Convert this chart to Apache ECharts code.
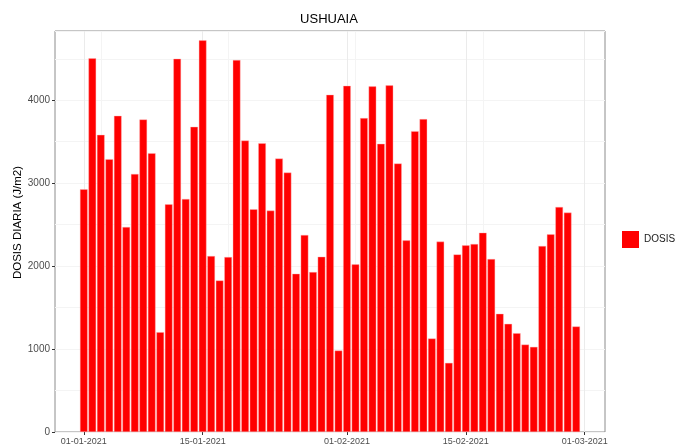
<!DOCTYPE html>
<html><head><meta charset="utf-8">
<script src="https://cdn.jsdelivr.net/npm/echarts@6/dist/echarts.min.js"></script>
<style>html,body{margin:0;padding:0;background:#fff}#c{width:675px;height:448px}</style>
</head><body><div id="c"></div>
<script>
const title = 'USHUAIA';
const seriesName = 'DOSIS';
const yTitle = 'DOSIS DIARIA (J/m2)';
const dates = [
 '2021-01-01','2021-01-02','2021-01-03','2021-01-04','2021-01-05','2021-01-06','2021-01-07','2021-01-08','2021-01-09','2021-01-10',
 '2021-01-11','2021-01-12','2021-01-13','2021-01-14','2021-01-15','2021-01-16','2021-01-17','2021-01-18','2021-01-19','2021-01-20',
 '2021-01-21','2021-01-22','2021-01-23','2021-01-24','2021-01-25','2021-01-26','2021-01-27','2021-01-28','2021-01-29','2021-01-30',
 '2021-01-31','2021-02-01','2021-02-02','2021-02-03','2021-02-04','2021-02-05','2021-02-06','2021-02-07','2021-02-08','2021-02-09',
 '2021-02-10','2021-02-11','2021-02-12','2021-02-13','2021-02-14','2021-02-15','2021-02-16','2021-02-17','2021-02-18','2021-02-19',
 '2021-02-20','2021-02-21','2021-02-22','2021-02-23','2021-02-24','2021-02-25','2021-02-26','2021-02-27','2021-02-28'];
const dosis = [
 2926,4505,3582,3289,3812,2471,3111,3768,3361,1203,
 2745,4500,2809,3679,4722,2121,1827,2109,4484,3514,
 2685,3482,2669,3297,3128,1908,2375,1928,2113,4066,
 982,4174,2021,3784,4167,3474,4179,3237,2310,3627,
 3772,1127,2295,833,2141,2250,2266,2403,2085,1425,
 1304,1191,1054,1026,2242,2383,2713,2645,1272];
const xTickDates = ['2021-01-01','2021-01-15','2021-02-01','2021-02-15','2021-03-01'];
const xMinorDates = ['2021-01-03','2021-01-18','2021-02-02','2021-02-17'];
const yTicks = [0,1000,2000,3000,4000];

const DAY = 86400000;
const t0 = Date.parse('2021-01-01');
const off = d => Math.round((Date.parse(d) - t0) / DAY);
const fmt = v => {
  const d = new Date(t0 + v * DAY);
  const p = n => String(n).padStart(2,'0');
  return p(d.getUTCDate()) + '-' + p(d.getUTCMonth()+1) + '-' + d.getUTCFullYear();
};
const xMajor = xTickDates.map(off);
const xMinor = xMinorDates.map(off);
const data = dates.map((d,i) => [off(d), dosis[i]]);
const xMin = -3.395, xMax = off(dates[dates.length-1]) + 3.395;
const yMax = 4835;
const font = 'Liberation Sans, Arial, sans-serif';

const chart = echarts.init(document.getElementById('c'), null, {renderer:'canvas'});
chart.setOption({
  animation: false,
  backgroundColor: '#fff',
  title: {text: title, left: 329, top: 13, textAlign: 'center', padding: 0,
    textStyle: {fontFamily: font, fontSize: 13, fontWeight: 'normal', color: '#000'}},
  legend: {data: [seriesName], left: 622, top: 231, orient: 'vertical', icon: 'rect', padding: 0,
    itemWidth: 17, itemHeight: 17, itemGap: 5,
    itemStyle: {borderWidth: 0},
    textStyle: {fontFamily: font, fontSize: 10, color: '#1a1a1a'}},
  grid: {left: 55, right: 70, top: 31, bottom: 16, show: true, borderColor: '#8c8c8c', borderWidth: 1,
    backgroundColor: 'transparent', containLabel: false, outerBoundsMode: 'none'},
  xAxis: {type: 'value', min: xMin, max: xMax,
    axisLine: {show: false, onZero: false},
    axisTick: {show: true, length: 3, lineStyle: {color: '#333'}, customValues: xMajor},
    axisLabel: {fontFamily: font, fontSize: 9, color: '#4d4d4d', margin: 5, customValues: xMajor, formatter: v => fmt(v)},
    splitLine: {show: false}},
  yAxis: [
    {type: 'value', min: 0, max: yMax, interval: 1000,
      name: yTitle, nameLocation: 'middle', nameGap: 31, nameRotate: 90, nameMoveOverlap: false,
      nameTextStyle: {fontFamily: font, fontSize: 11.5, color: '#000', padding: [0, 0, 0, 18]},
      axisLine: {show: false, onZero: false},
      axisTick: {show: true, length: 3, lineStyle: {color: '#333'}, customValues: yTicks},
      axisLabel: {fontFamily: font, fontSize: 10, color: '#4d4d4d', margin: 5, customValues: yTicks, formatter: v => String(v)},
      splitLine: {show: true, lineStyle: {color: '#ebebeb', width: 1}}},
    {type: 'value', min: 0, max: yMax, interval: 500, position: 'left',
      axisLine: {show: false, onZero: false}, axisTick: {show: false}, axisLabel: {show: false},
      splitLine: {show: true, lineStyle: {color: '#f4f4f4', width: 1}}}
  ],
  series: [
    {name: seriesName, type: 'bar', data: data, barWidth: 7.6, z: 3,
      itemStyle: {color: '#ff0000', borderColor: '#ffb3b3', borderWidth: 0.4},
      markLine: {silent: true, symbol: 'none', z: 1, label: {show: false},
        data: xMajor.map(v => ({xAxis: v, lineStyle: {color: '#ebebeb', width: 1, type: 'solid'}}))
          .concat(xMinor.map(v => ({xAxis: v, lineStyle: {color: '#f4f4f4', width: 1, type: 'solid'}})))}}
  ]
});
</script></body></html>
